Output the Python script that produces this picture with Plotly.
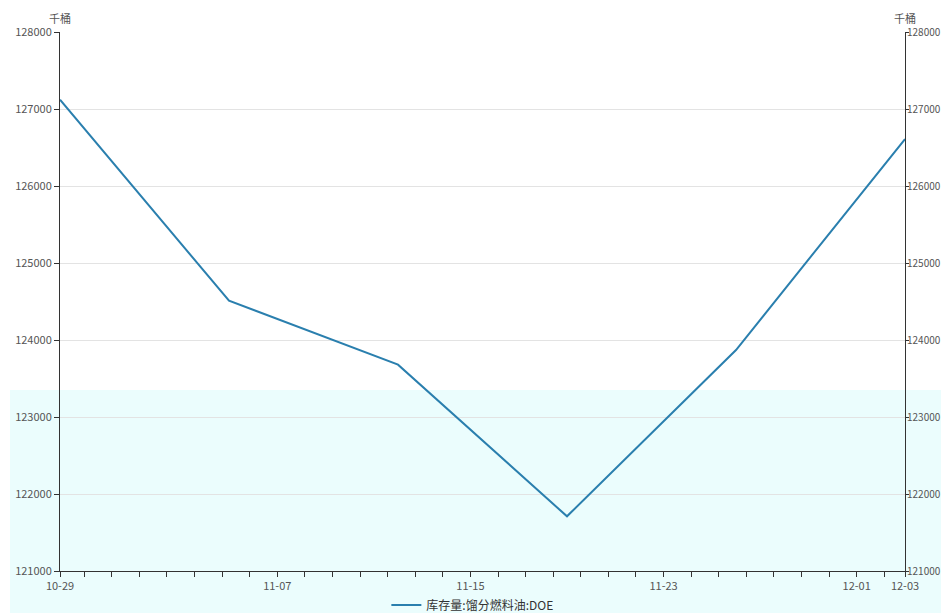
import plotly.graph_objects as go

dates = ["2025-10-29", "2025-11-05", "2025-11-12", "2025-11-19", "2025-11-26", "2025-12-03"]
values = [127120, 124510, 123680, 121710, 123870, 126610]
series_name = "库存量:馏分燃料油:DOE"
tick_dates = ["2025-10-29", "2025-11-07", "2025-11-15", "2025-11-23", "2025-12-01", "2025-12-03"]
tick_text = ["10-29", "11-07", "11-15", "11-23", "12-01", "12-03"]
y_ticks = [121000, 122000, 123000, 124000, 125000, 126000, 127000, 128000]
y_text = [str(v) for v in y_ticks]
unit = "千桶"

FONT = "Noto Sans CJK SC, Microsoft YaHei, sans-serif"
LINE = "#2a7fae"

fig = go.Figure()
fig.add_trace(go.Scatter(x=dates, y=values, mode="lines", name=series_name,
                         line=dict(color=LINE, width=2)))
fig.add_trace(go.Scatter(x=dates, y=values, mode="lines", yaxis="y2",
                         line=dict(color="rgba(0,0,0,0)"), showlegend=False, hoverinfo="skip"))

fig.add_shape(type="rect", xref="paper", yref="paper", x0=-0.0592, x1=1.06, y0=-0.1, y1=0.336,
              fillcolor="#ebfdfd", line=dict(width=0), layer="below")

yax = dict(range=[121000, 128000], tickvals=y_ticks, ticktext=y_text, showline=True, linecolor="#333",
           linewidth=1, ticks="outside", tickcolor="#333", zeroline=False, automargin=False)
fig.update_layout(
    width=933, height=605,
    margin=dict(l=52, r=36, t=24, b=42, autoexpand=False),
    paper_bgcolor="white", plot_bgcolor="rgba(0,0,0,0)",
    font=dict(family=FONT, color="#555"),
    xaxis=dict(type="date", range=[dates[0], dates[-1]], tickvals=tick_dates, ticktext=tick_text,
               showline=True, linecolor="#333", linewidth=1, ticks="outside", ticklen=5,
               tickcolor="#333", showgrid=False, zeroline=False, automargin=False,
               tickfont=dict(size=11, color="#555", family=FONT),
               minor=dict(ticks="outside", ticklen=5, tickcolor="#333",
                          tick0="2025-11-07", dtick=8 * 86400000 / 7, showgrid=False)),
    yaxis=dict(**yax, ticklen=5, showgrid=True, gridcolor="#e3e3e3",
               tickfont=dict(size=11, color="#555", family=FONT)),
    yaxis2=dict(**yax, ticklen=3, overlaying="y", side="right", showgrid=False,
                ticklabelstandoff=-4, tickfont=dict(size=10, color="#555", family=FONT)),
    showlegend=True,
    legend=dict(orientation="h", x=0.488, xanchor="center", y=-0.063, yanchor="middle",
                font=dict(size=12, color="#333", family=FONT), bgcolor="rgba(0,0,0,0)"),
    annotations=[
        dict(text=unit, xref="paper", yref="paper", x=0, y=1, xanchor="center", yanchor="bottom",
             yshift=4, showarrow=False, font=dict(size=11, color="#555", family=FONT)),
        dict(text=unit, xref="paper", yref="paper", x=1, y=1, xanchor="center", yanchor="bottom",
             yshift=4, showarrow=False, font=dict(size=11, color="#555", family=FONT)),
    ],
)

fig.write_html("out.html")
